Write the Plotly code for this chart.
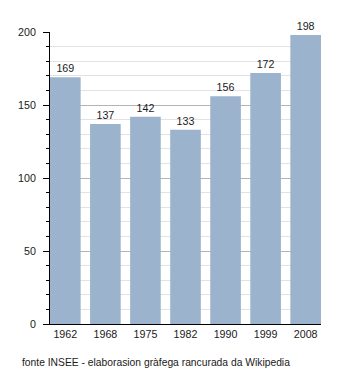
import plotly.graph_objects as go

years = ["1962", "1968", "1975", "1982", "1990", "1999", "2008"]
population = [169, 137, 142, 133, 156, 172, 198]
source_note = "fonte INSEE - elaborasion gràfega rancurada da Wikipedia"

bar_color = "#9bb3cc"
font_family = "Liberation Sans, Arial, sans-serif"
text_color = "#1a1a1a"
gap = 0.235

fig = go.Figure(
    go.Bar(
        x=years,
        y=population,
        marker=dict(color=bar_color, line=dict(width=0)),
        text=[str(v) for v in population],
        textposition="outside",
        textfont=dict(size=10.7, color=text_color, family=font_family),
        cliponaxis=False,
        hoverinfo="skip",
    )
)

fig.update_layout(
    width=350,
    height=373,
    margin=dict(l=50, r=29, t=32, b=49),
    paper_bgcolor="white",
    plot_bgcolor="white",
    bargap=gap,
    showlegend=False,
    font=dict(family=font_family, size=10.7, color=text_color),
)

fig.update_xaxes(
    type="category",
    range=[-0.5 + gap / 2, len(years) - 0.5 - gap / 2],
    showline=True,
    linecolor="black",
    linewidth=1,
    ticks="",
    showgrid=False,
    tickfont=dict(size=10.7, family=font_family, color=text_color),
    ticklabelstandoff=0,
    fixedrange=True,
)

fig.update_yaxes(
    range=[0, 200],
    dtick=50,
    showline=True,
    linecolor="black",
    linewidth=1,
    ticks="outside",
    ticklen=6,
    tickcolor="black",
    tickwidth=1,
    showgrid=True,
    gridcolor="#b4b4b4",
    gridwidth=1,
    zeroline=False,
    minor=dict(
        dtick=10,
        ticks="outside",
        ticklen=3,
        tickcolor="black",
        showgrid=True,
        gridcolor="#e2e2e2",
        gridwidth=1,
    ),
    tickfont=dict(size=10.7, family=font_family, color=text_color),
    ticklabelstandoff=5,
    fixedrange=True,
)

fig.add_annotation(
    text=source_note,
    xref="paper",
    yref="paper",
    x=-30 / 271,
    y=-38 / 292,
    xanchor="left",
    yanchor="middle",
    showarrow=False,
    font=dict(size=10.3, family=font_family, color=text_color),
)

fig.write_html("out.html", config=dict(displayModeBar=False))
